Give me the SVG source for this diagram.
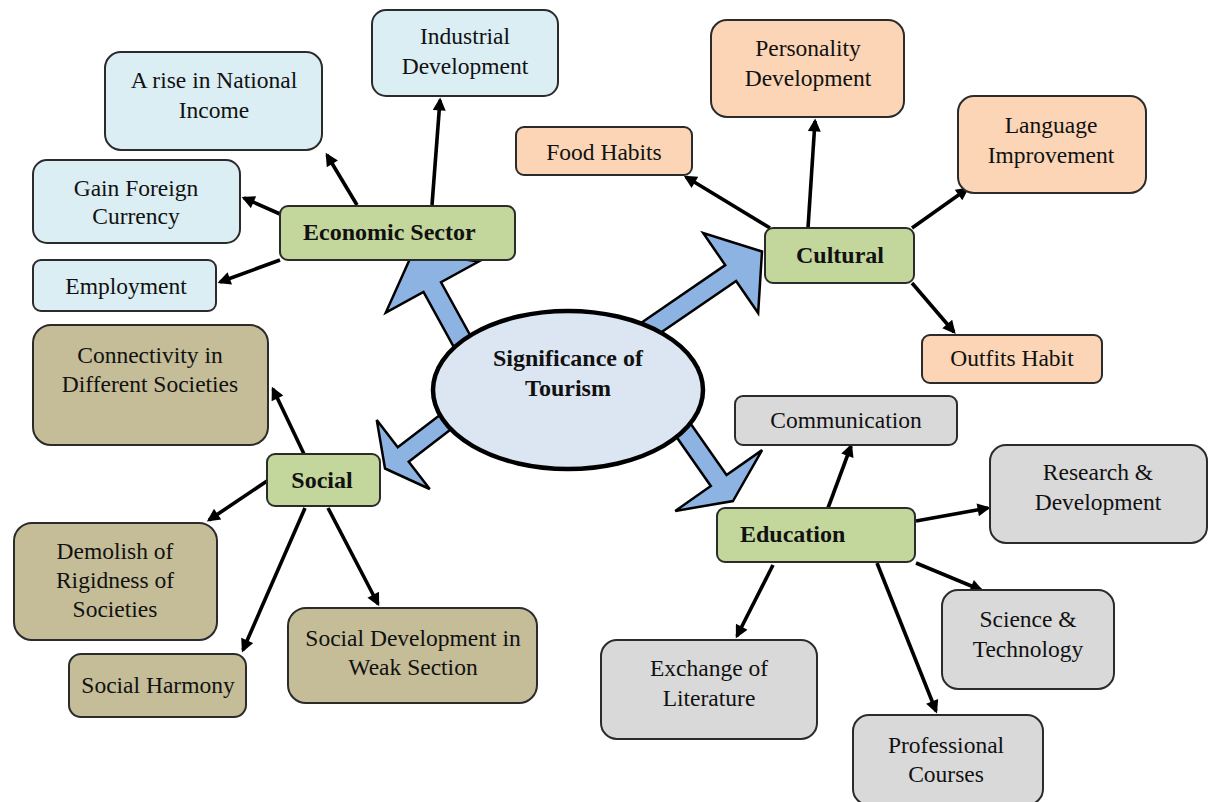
<svg xmlns="http://www.w3.org/2000/svg" width="1208" height="802" viewBox="0 0 1208 802">
<defs>
<marker id="ah" viewBox="0 0 10 10" refX="8" refY="5" markerWidth="15" markerHeight="13" markerUnits="userSpaceOnUse" orient="auto">
<path d="M0,0 L10,5 L0,10 Z" fill="#000"/>
</marker>
<style>
.bx{stroke:#2b2b2b;stroke-width:2}
.eco{fill:#dbeef4}
.cul{fill:#fbd5b5}
.soc{fill:#c4bd97}
.edu{fill:#d9d9d9}
.cat{fill:#c3d69b}
.t{font-family:"Liberation Serif","Times New Roman",serif;font-size:23.5px;fill:#111;text-anchor:middle}
.b{font-family:"Liberation Serif","Times New Roman",serif;font-size:24px;font-weight:bold;fill:#111;text-anchor:middle}
.ln{stroke:#000;stroke-width:3.6;fill:none;marker-end:url(#ah)}
.blk{fill:#8db3e2;stroke:#000;stroke-width:2.5;stroke-linejoin:miter}
</style>
</defs>
<rect width="1208" height="802" fill="#fff"/>

<g id="connectors">
<line class="ln" x1="357" y1="205" x2="327" y2="155"/>
<line class="ln" x1="432" y1="205" x2="440" y2="100"/>
<line class="ln" x1="280" y1="214" x2="244" y2="198"/>
<line class="ln" x1="280" y1="260" x2="220" y2="282"/>
<line class="ln" x1="770" y1="228" x2="686" y2="177"/>
<line class="ln" x1="808" y1="228" x2="815" y2="121"/>
<line class="ln" x1="912" y1="228" x2="967" y2="189"/>
<line class="ln" x1="912" y1="283" x2="954" y2="332"/>
<line class="ln" x1="304" y1="454" x2="273" y2="389"/>
<line class="ln" x1="267" y1="481" x2="209" y2="520"/>
<line class="ln" x1="305" y1="508" x2="243" y2="650"/>
<line class="ln" x1="328" y1="508" x2="378" y2="604"/>
<line class="ln" x1="828" y1="508" x2="851" y2="446"/>
<line class="ln" x1="916" y1="521" x2="988" y2="508"/>
<line class="ln" x1="916" y1="563" x2="981" y2="590"/>
<line class="ln" x1="773" y1="565" x2="737" y2="636"/>
<line class="ln" x1="877" y1="563" x2="936" y2="711"/>
<g id="block-arrows">
<polygon class="blk" transform="translate(413,252) rotate(-118.8)" points="0,0 -40,-53 -40,-10 -125,-10 -125,10 -40,10 -40,53"/>
<polygon class="blk" transform="translate(762,251.5) rotate(-34.5)" points="0,0 -38,-48.5 -38,-9.6 -150,-9.6 -150,9.6 -38,9.6 -38,48.5"/>
<polygon class="blk" transform="translate(385,468.5) rotate(142.5)" points="0,0 -23,-43.5 -23,-9 -100,-9 -100,9 -23,9 -23,43.5"/>
<polygon class="blk" transform="translate(733,501) rotate(55)" points="0,0 -25,-53 -25,-9.6 -100,-9.6 -100,9.6 -25,9.6 -25,53"/>
</g>
</g>

<g id="center">
<ellipse cx="568" cy="390" rx="135" ry="79" fill="#dce6f2" stroke="#000" stroke-width="4.5"/>
<text class="b" x="568" y="366">Significance of</text>
<text class="b" x="568" y="396">Tourism</text>
</g>

<g id="economic-sector">
<rect class="bx cat" x="280" y="206" width="235" height="54" rx="8"/>
<text class="b" x="303" y="240" style="text-anchor:start">Economic Sector</text>
</g>
<g id="industrial">
<rect class="bx eco" x="372" y="10" width="186" height="86" rx="14"/>
<text class="t" x="465" y="44">Industrial</text>
<text class="t" x="465" y="74">Development</text>
</g>
<g id="national-income">
<rect class="bx eco" x="105" y="52" width="217" height="98" rx="16"/>
<text class="t" x="214" y="88">A rise in National</text>
<text class="t" x="214" y="118">Income</text>
</g>
<g id="foreign-currency">
<rect class="bx eco" x="33" y="160" width="207" height="83" rx="14"/>
<text class="t" x="136" y="196">Gain Foreign</text>
<text class="t" x="136" y="224">Currency</text>
</g>
<g id="employment">
<rect class="bx eco" x="33" y="260" width="183" height="51" rx="8"/>
<text class="t" x="126" y="294">Employment</text>
</g>

<g id="cultural">
<rect class="bx cat" x="765" y="228" width="149" height="55" rx="8"/>
<text class="b" x="840" y="263">Cultural</text>
</g>
<g id="food-habits">
<rect class="bx cul" x="516" y="127" width="176" height="48" rx="8"/>
<text class="t" x="604" y="160">Food Habits</text>
</g>
<g id="personality">
<rect class="bx cul" x="711" y="20" width="193" height="97" rx="16"/>
<text class="t" x="808" y="56">Personality</text>
<text class="t" x="808" y="86">Development</text>
</g>
<g id="language">
<rect class="bx cul" x="958" y="96" width="188" height="97" rx="16"/>
<text class="t" x="1051" y="133">Language</text>
<text class="t" x="1051" y="163">Improvement</text>
</g>
<g id="outfits">
<rect class="bx cul" x="922" y="335" width="180" height="48" rx="8"/>
<text class="t" x="1012" y="366">Outfits Habit</text>
</g>

<g id="social">
<rect class="bx cat" x="267" y="454" width="113" height="52" rx="8"/>
<text class="b" x="322" y="488">Social</text>
</g>
<g id="connectivity">
<rect class="bx soc" x="33" y="325" width="235" height="120" rx="18"/>
<text class="t" x="150" y="363">Connectivity in</text>
<text class="t" x="150" y="392">Different Societies</text>
</g>
<g id="demolish">
<rect class="bx soc" x="14" y="523" width="203" height="117" rx="18"/>
<text class="t" x="115" y="559">Demolish of</text>
<text class="t" x="115" y="588">Rigidness of</text>
<text class="t" x="115" y="617">Societies</text>
</g>
<g id="harmony">
<rect class="bx soc" x="69" y="654" width="177" height="63" rx="12"/>
<text class="t" x="158" y="693">Social Harmony</text>
</g>
<g id="social-development">
<rect class="bx soc" x="288" y="608" width="249" height="95" rx="18"/>
<text class="t" x="413" y="646">Social Development  in</text>
<text class="t" x="413" y="675">Weak Section</text>
</g>

<g id="education">
<rect class="bx cat" x="717" y="508" width="198" height="54" rx="8"/>
<text class="b" x="740" y="542" style="text-anchor:start">Education</text>
</g>
<g id="communication">
<rect class="bx edu" x="735" y="396" width="222" height="49" rx="8"/>
<text class="t" x="846" y="428">Communication</text>
</g>
<g id="research">
<rect class="bx edu" x="990" y="445" width="217" height="98" rx="16"/>
<text class="t" x="1098" y="480">Research &amp;</text>
<text class="t" x="1098" y="510">Development</text>
</g>
<g id="science">
<rect class="bx edu" x="942" y="590" width="172" height="99" rx="16"/>
<text class="t" x="1028" y="627">Science &amp;</text>
<text class="t" x="1028" y="657">Technology</text>
</g>
<g id="exchange">
<rect class="bx edu" x="601" y="640" width="216" height="99" rx="16"/>
<text class="t" x="709" y="676">Exchange of</text>
<text class="t" x="709" y="706">Literature</text>
</g>
<g id="professional">
<rect class="bx edu" x="853" y="715" width="190" height="90" rx="16"/>
<text class="t" x="946" y="753">Professional</text>
<text class="t" x="946" y="782">Courses</text>
</g>
</svg>
